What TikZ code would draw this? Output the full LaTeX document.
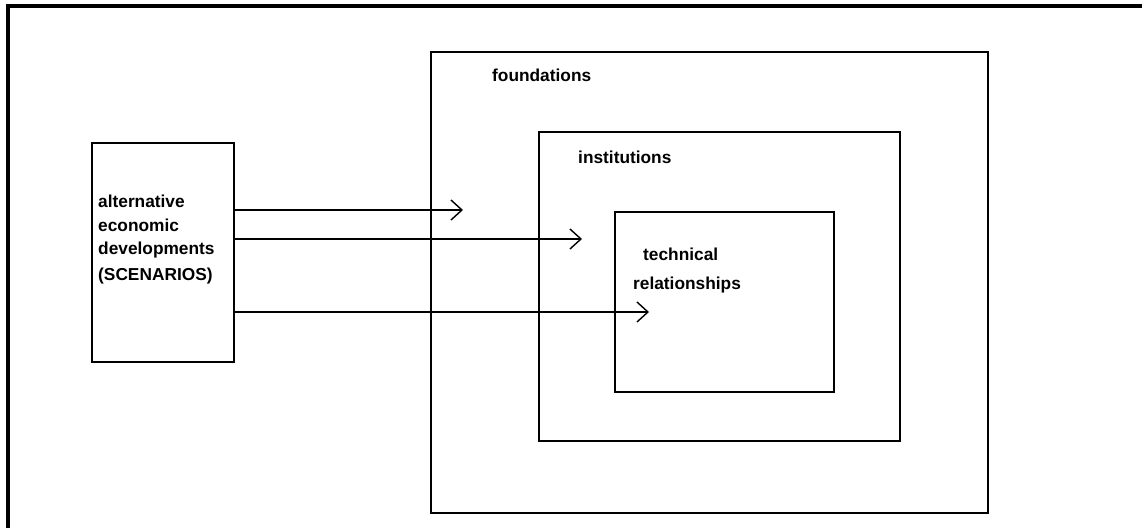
\documentclass[tikz,border=0pt]{standalone}
\usepackage{fontspec}
\setmainfont{Liberation Sans}
\usetikzlibrary{arrows.meta}
\begin{document}
\begin{tikzpicture}[x=1pt,y=-1pt,
  box/.style={draw,line width=2pt,inner sep=0pt,anchor=north west},
  lbl/.style={anchor=base west,inner sep=0pt,font=\fontsize{17.3}{24}\selectfont\bfseries},
  arr/.style={line width=1.4pt,-{Straight Barb[length=11pt,width=20pt,line width=1.4pt]}}]
\useasboundingbox (0,0) rectangle (1142,528);
% outer frame (top and left edges)
\coordinate (ftop) at (1142,6);
\coordinate (fcorner) at (8,6);
\coordinate (fbot) at (8,528);
\draw[line width=3.5pt] (ftop) -- (fcorner) -- (fbot);
% boxes
\node[box,minimum width=142pt,minimum height=219pt] (scen) at (91,142) {};
\node[box,minimum width=557pt,minimum height=461pt] (found) at (430,51) {};
\node[box,minimum width=361pt,minimum height=309pt] (inst) at (538,131) {};
\node[box,minimum width=219pt,minimum height=180pt] (tech) at (614,211) {};
% labels
\node[lbl] (tfound) at (492,81) {foundations};
\node[lbl] (tinst) at (578,163) {institutions};
\node[lbl] (ttech1) at (643,260) {technical};
\node[lbl] (ttech2) at (633,289) {relationships};
\node[lbl] (ts1) at (98,207) {alternative};
\node[lbl] (ts2) at (98,231) {economic};
\node[lbl] (ts3) at (98,254) {developments};
\node[lbl] (ts4) at (98,280) {(SCENARIOS)};
% arrows
\coordinate (a1) at (463,210);
\coordinate (a2) at (582,239);
\coordinate (a3) at (649,312);
\draw[arr] (scen.east |- a1) -- (a1);
\draw[arr] (scen.east |- a2) -- (a2);
\draw[arr] (scen.east |- a3) -- (a3);
\end{tikzpicture}
\end{document}
